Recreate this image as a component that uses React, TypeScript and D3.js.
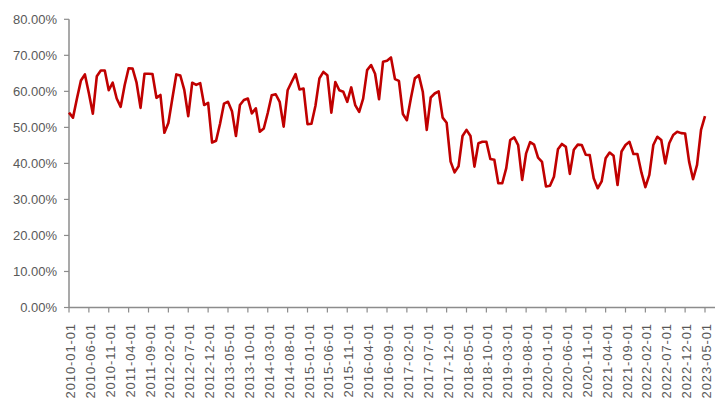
import React from "react";
import * as d3 from "d3";

const startYear = 2010;
const startMonth = 0;
const values: number[] = [
  54.1, 52.7, 58.0, 63.0, 64.7, 59.5, 53.8, 64.2, 65.8, 65.8, 60.3, 62.4,
  58.0, 55.7, 61.7, 66.4, 66.3, 62.4, 55.4, 64.9, 64.9, 64.8, 58.2, 59.0,
  48.5, 51.2, 58.0, 64.7, 64.4, 60.4, 53.1, 62.4, 61.8, 62.3, 56.2, 56.8,
  45.8, 46.3, 51.0, 56.6, 57.1, 54.5, 47.6, 56.2, 57.6, 58.0, 53.9, 55.3,
  48.8, 49.7, 54.0, 58.9, 59.2, 57.1, 50.2, 60.3, 62.6, 64.8, 60.5, 60.8,
  50.9, 51.0, 56.0, 63.6, 65.4, 64.5, 54.1, 62.6, 60.3, 59.9, 57.1, 61.1,
  56.2, 54.3, 58.0, 65.9, 67.3, 64.9, 57.8, 68.2, 68.5, 69.4, 63.4, 62.9,
  53.7, 52.0, 58.0, 63.6, 64.5, 59.9, 49.3, 58.3, 59.4, 60.0, 52.7, 51.3,
  40.5, 37.5, 39.2, 47.6, 49.3, 47.6, 39.1, 45.6, 46.0, 46.0, 41.2, 41.0,
  34.5, 34.5, 38.7, 46.5, 47.2, 45.1, 35.4, 42.8, 45.9, 45.2, 41.6, 40.4,
  33.6, 33.8, 36.3, 43.9, 45.4, 44.6, 37.1, 43.8, 45.2, 45.1, 42.4, 42.3,
  35.9, 33.1, 35.0, 41.4, 43.0, 42.1, 34.0, 43.3, 45.1, 46.0, 42.6, 42.6,
  37.5, 33.4, 36.8, 45.1, 47.4, 46.5, 40.0, 45.6, 47.9, 48.8, 48.4, 48.3,
  40.5, 35.6, 39.6, 49.3, 53.1,
];
const dates: string[] = values.map((_, i) => {
  const m = startMonth + i;
  const y = startYear + Math.floor(m / 12);
  const mm = (m % 12) + 1;
  return `${y}-${String(mm).padStart(2, "0")}-01`;
});
const yTicks: number[] = [0, 10, 20, 30, 40, 50, 60, 70, 80];
const tickEvery = 5;

export default function App() {
  const W = 717, H = 405;
  const left = 69, right = 705, top = 19.3, bottom = 307.5;
  const x = d3.scalePoint<string>().domain(dates).range([left, right]);
  const y = d3.scaleLinear().domain([0, 80]).range([bottom, top]);
  const line = d3.line<number>().x((_, i) => x(dates[i]) as number).y((d) => y(d));
  const axisColor = "#8c8c8c";
  const textColor = "#595959";
  const xTicks = dates.filter((_, i) => i % tickEvery === 0);
  return (
    <svg width={W} height={H} style={{ position: "absolute", left: 0, top: 0 }}>
      <rect width={W} height={H} fill="#fff" />
      <line x1={left} x2={left} y1={top} y2={bottom} stroke={axisColor} strokeWidth={1.5} />
      <line x1={left} x2={715} y1={bottom} y2={bottom} stroke={axisColor} strokeWidth={1.5} />
      {yTicks.map((t) => (
        <g key={t}>
          <line x1={left - 5} x2={left} y1={y(t)} y2={y(t)} stroke={axisColor} strokeWidth={1.2} />
          <text x={57} y={y(t)} textAnchor="end" dominantBaseline="central"
            fontFamily="Liberation Sans, Arial, sans-serif" fontSize={13} fill={textColor}>
            {t.toFixed(2) + "%"}
          </text>
        </g>
      ))}
      {xTicks.map((d) => {
        const px = x(d) as number;
        return (
          <g key={d}>
            <line x1={px} x2={px} y1={bottom} y2={bottom + 5} stroke={axisColor} strokeWidth={1.2} />
            <text transform={`translate(${px + 1.5},323) rotate(-90)`} textAnchor="end"
              dominantBaseline="central" fontFamily="Liberation Sans, Arial, sans-serif"
              fontSize={13} letterSpacing={0.9} fill={textColor}>
              {d}
            </text>
          </g>
        );
      })}
      <path d={line(values) || ""} fill="none" stroke="#c00000" strokeWidth={2.6} strokeLinejoin="round" />
    </svg>
  );
}
